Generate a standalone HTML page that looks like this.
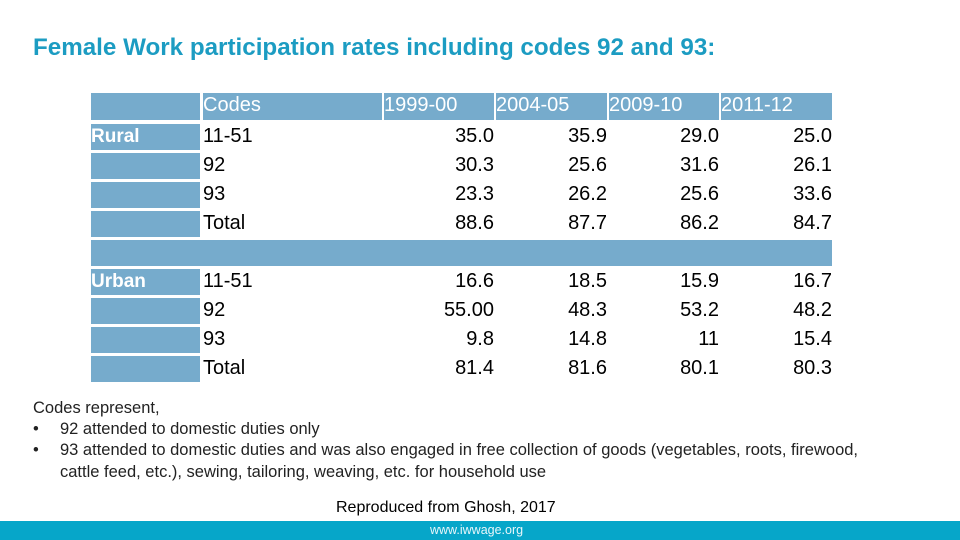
<!DOCTYPE html>
<html><head><meta charset="utf-8"><style>
body{margin:0;width:960px;height:540px;position:relative;background:#fff;font-family:"Liberation Sans",sans-serif;overflow:hidden}
.a{position:absolute}
.c{position:absolute;background:#76abcc}
.t{position:absolute;font-size:20px;line-height:27px;color:#000;white-space:nowrap}
.r{text-align:right}
.h{color:#fff}
.fn{position:absolute;left:33px;font-size:16.5px;color:#222;white-space:nowrap;line-height:21.5px}
</style></head><body>
<div class="a" style="left:33px;top:34px;font-size:24.2px;font-weight:bold;color:#1c9cc2;white-space:nowrap">Female Work participation rates including codes 92 and 93:</div>
<div id="tbl"></div>
<div class="fn" style="top:398px">Codes represent,</div>
<div class="fn" style="top:419px"><span style="position:absolute;left:0">•</span><span style="position:absolute;left:27px">92 attended to domestic duties only</span></div>
<div class="fn" style="top:440px;width:900px"><span style="position:absolute;left:0">•</span><span style="position:absolute;left:27px">93 attended to domestic duties and was also engaged in free collection of goods (vegetables, roots, firewood,<br>cattle feed, etc.), sewing, tailoring, weaving, etc. for household use</span></div>
<div class="a" style="left:336px;top:499px;font-size:16px;color:#000;white-space:nowrap">Reproduced from Ghosh, 2017</div>
<div class="a" style="left:0;top:521px;width:960px;height:19px;background:#06a6c9;color:#e8f6fa;font-size:12.5px;line-height:19px;text-align:center;padding-right:0"><span style="position:absolute;left:430px">www.iwwage.org</span></div>
<script>
const years=["1999-00","2004-05","2009-10","2011-12"];
const codes=["11-51","92","93","Total"];
const rural=[["35.0","30.3","23.3","88.6"],["35.9","25.6","26.2","87.7"],["29.0","31.6","25.6","86.2"],["25.0","26.1","33.6","84.7"]];
const urban=[["16.6","55.00","9.8","81.4"],["18.5","48.3","14.8","81.6"],["15.9","53.2","11","80.1"],["16.7","48.2","15.4","80.3"]];
const T=document.getElementById('tbl');
const colL=[91,203,384,496,609,721],colR=[200,382,494,607,719,832];
function box(cls,x,y,w,h,txt,name){const d=document.createElement('div');d.className=cls;d.style.left=x+'px';d.style.top=y+'px';if(w)d.style.width=w+'px';if(h)d.style.height=h+'px';if(txt!==undefined)d.textContent=txt;


T.appendChild(d);return d;}
for(let i=0;i<6;i++)box('c',colL[i],93,colR[i]-colL[i],27,undefined,'header-cell');
box('t h',203,92,0,0,'Codes','header-codes');
years.forEach((y,i)=>{box('t h',colL[i+2],92,0,0,y,'header-year');});
const rowTops=[124,153,182,211],uTops=[269,298,327,356];
rowTops.forEach(t=>box('c',91,t,109,26,undefined,'row-label-cell'));
uTops.forEach(t=>box('c',91,t,109,26,undefined,'row-label-cell'));
box('c',91,240,741,26,undefined,'separator-row');
const lr=box('t h',91,123,0,0,'Rural','rural-label');lr.style.fontWeight='bold';lr.style.fontSize='19px';
const lu=box('t h',91,268,0,0,'Urban','urban-label');lu.style.fontWeight='bold';lu.style.fontSize='19px';
function fill(tops,data,g){tops.forEach((t,r)=>{box('t',203,t-1,0,0,codes[r],g+'-code');
data.forEach((col,c)=>{box('t r',colL[c+2]-40,t-1,colR[c+2]-colL[c+2]+40,0,col[r],g+'-value');});});}
fill(rowTops,rural,'rural');fill(uTops,urban,'urban');
</script>
</body></html>
